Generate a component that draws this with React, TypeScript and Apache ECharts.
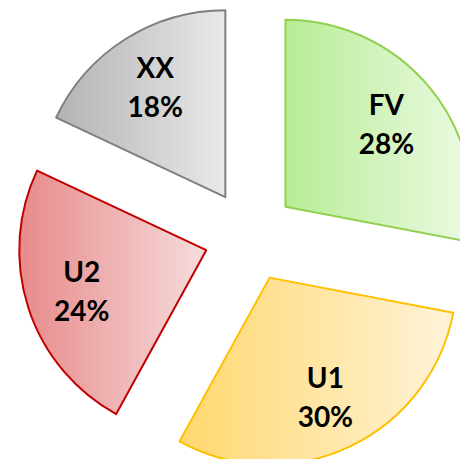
import React, { useEffect, useRef } from "react";
import * as echarts from "echarts";

const categories = ["FV", "U1", "U2", "XX"];
const values = [28, 30, 24, 18];
const percentLabels = ["28%", "30%", "24%", "18%"];
const fillStart = ["#b7ec95", "#ffd86e", "#e88a8a", "#b3b3b3"];
const fillEnd = ["#ecfbe4", "#fff3d9", "#f6dcdc", "#e9e9e9"];
const borders = ["#92d050", "#ffc000", "#c00000", "#7f7f7f"];

const CENTER = [250, 236];
const RADIUS = 187;
const EXPLODE = 46;
const LABEL_DIST = 131;

export default function App() {
  const ref = useRef<HTMLDivElement>(null);
  useEffect(() => {
    if (!ref.current) return;
    const chart = echarts.init(ref.current, undefined, { renderer: "svg" });
    const total = values.reduce((a, b) => a + b, 0);
    const slices = categories.map((name, i) => {
      const itemStyle = {
        color: new echarts.graphic.LinearGradient(0, 0, 1, 0, [
          { offset: 0, color: fillStart[i] },
          { offset: 1, color: fillEnd[i] },
        ]),
        borderColor: borders[i],
        borderWidth: 2,
      };
      return {
        name,
        value: values[i],
        selected: true,
        itemStyle,
        select: { itemStyle },
      };
    });
    // label anchors: mid-angle of each slice (in value units), placed in polar coords
    let acc = 0;
    const labelPoints = categories.map((name, i) => {
      const mid = acc + values[i] / 2;
      acc += values[i];
      return { name, value: [EXPLODE + LABEL_DIST, mid] };
    });
    const outer = 260;
    chart.setOption({
      animation: false,
      backgroundColor: "#ffffff",
      polar: { center: CENTER, radius: [0, outer] },
      angleAxis: {
        type: "value",
        min: 0,
        max: total,
        startAngle: 90,
        clockwise: true,
        show: false,
      },
      radiusAxis: { type: "value", min: 0, max: outer, show: false },
      series: [
        {
          type: "pie",
          center: CENTER,
          radius: [0, RADIUS],
          startAngle: 90,
          clockwise: true,
          selectedMode: "multiple",
          selectedOffset: EXPLODE,
          silent: true,
          label: { show: false },
          labelLine: { show: false },
          emphasis: { disabled: true },
          data: slices,
        },
        {
          type: "scatter",
          coordinateSystem: "polar",
          symbol: "circle",
          symbolSize: 1,
          itemStyle: { color: "transparent", opacity: 1 },
          silent: true,
          z: 10,
          label: {
            show: true,
            position: "inside",
            align: "center",
            verticalAlign: "middle",
            color: "#000000",
            opacity: 1,
            textBorderWidth: 0,
            fontFamily: "Lato",
            fontWeight: "bold",
            fontSize: 28,
            lineHeight: 39,
            formatter: (p: any) => `${p.name}\n${percentLabels[p.dataIndex]}`,
          },
          data: labelPoints,
        },
      ],
    });
    return () => chart.dispose();
  }, []);
  return (
    <div
      ref={ref}
      style={{ position: "fixed", left: 0, top: 0, width: 460, height: 459 }}
    />
  );
}
